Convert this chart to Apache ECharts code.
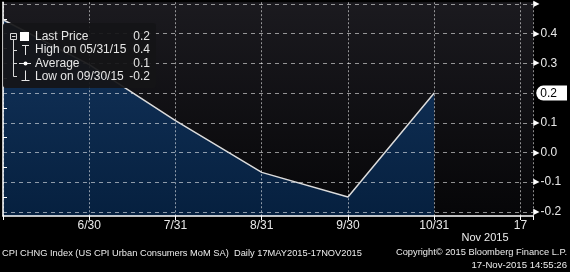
<!DOCTYPE html>
<html><head><meta charset="utf-8">
<script src="https://cdn.jsdelivr.net/npm/echarts@6/dist/echarts.min.js"></script>
<style>html,body{margin:0;padding:0;background:#000}#c{width:570px;height:272px}</style>
</head><body><div id="c"></div>
<script>
// ---- data ----
const pointDates = ['05/31/15','06/30/15','07/31/15','08/31/15','09/30/15','10/31/15'];
const priceValues = [0.447, 0.296, 0.107, -0.067, -0.15, 0.2];
const xTickLabels = ['', '6/30', '7/31', '8/31', '9/30', '10/31', '17'];
const yTickValues = [-0.2, -0.1, 0.0, 0.1, 0.2, 0.3, 0.4];
const yTopTick = 0.5;
const lastPrice = 0.2;
const legendLabels = ['Last Price', 'High on 05/31/15', 'Average', 'Low on 09/30/15'];
const legendValues = ['0.2', '0.4', '0.1', '-0.2'];
const monthLabel = 'Nov 2015';
const footerLeft = 'CPI CHNG Index (US CPI Urban Consumers MoM SA)  Daily 17MAY2015-17NOV2015';
const footerRight1 = 'Copyright\u00A9 2015 Bloomberg Finance L.P.';
const footerRight2 = '17-Nov-2015 14:55:26';

const FONT = "'Liberation Sans', Arial, sans-serif";
const seriesData = priceValues.map((v, i) => [i, v]);
const near = (a, b) => Math.abs(a - b) < 1e-6;

const chart = echarts.init(document.getElementById('c'), null, {renderer: 'canvas'});

const rowYs = [37, 50, 63.5, 76.5];
const LZ = 30;
const ln = (x1, y1, x2, y2, c) => ({type: 'line', z: LZ + 1, shape: {x1, y1, x2, y2}, style: {stroke: c || '#d8d8d8', lineWidth: 1}});
const legendChildren = [
  {type: 'rect', z: LZ, shape: {x: 3, y: 23, width: 153, height: 65, r: 3}, style: {fill: 'rgba(20,20,23,0.93)'}},
  {type: 'rect', z: LZ + 1, shape: {x: 10.5, y: 33.5, width: 6, height: 6}, style: {fill: 'none', stroke: '#d8d8d8', lineWidth: 1}},
  ln(12, 36.5, 15.5, 36.5),
  ln(13.5, 40, 13.5, 76.5),
  ln(13.5, 50.5, 17, 50.5),
  ln(13.5, 63.5, 17, 63.5),
  ln(13.5, 76.5, 17, 76.5),
  {type: 'rect', z: LZ + 1, shape: {x: 20, y: 32, width: 9, height: 9}, style: {fill: '#ffffff'}},
  ln(22, 45.5, 29, 45.5, '#e6e6e6'),
  ln(25.5, 45.5, 25.5, 55, '#e6e6e6'),
  ln(19, 63.5, 31, 63.5, '#e6e6e6'),
  {type: 'circle', z: LZ + 1, shape: {cx: 25.5, cy: 63.5, r: 2}, style: {fill: '#ffffff'}},
  ln(25.5, 70.5, 25.5, 80, '#e6e6e6'),
  ln(21.5, 80.5, 29.5, 80.5, '#e6e6e6')
];
legendLabels.forEach((t, i) => {
  legendChildren.push({type: 'text', z: LZ + 1, x: 35, y: rowYs[i], style: {text: t, font: '12px ' + FONT, fill: '#e6e6e6', align: 'left', verticalAlign: 'middle'}});
  legendChildren.push({type: 'text', z: LZ + 1, x: 150, y: rowYs[i], style: {text: legendValues[i], font: '12px ' + FONT, fill: '#e6e6e6', align: 'right', verticalAlign: 'middle'}});
});

const txt = (x, y, text, size, align) => ({type: 'text', z: LZ, x, y, style: {text, font: size + 'px ' + FONT, fill: '#ececec', align, verticalAlign: 'middle'}});

const vGridStyle = {color: 'rgba(255,255,255,0.55)', type: [2, 2], width: 1};
const hGridStyle = {color: 'rgba(255,255,255,0.55)', type: [4, 4], width: 1};

const option = {
  animation: false,
  backgroundColor: '#000000',
  grid: {
    left: 0, right: 33, top: 0, bottom: 56, show: true, borderWidth: 0,
    backgroundColor: new echarts.graphic.LinearGradient(0, 0, 0, 1, [
      {offset: 0, color: '#1b1a1f'}, {offset: 1, color: '#060608'}
    ])
  },
  xAxis: {
    type: 'value', min: 0, max: 6.149, interval: 1, z: 3,
    axisLine: {show: true, onZero: false, lineStyle: {color: '#ffffff', width: 1.5}},
    axisTick: {show: true, length: 4, lineStyle: {color: '#ffffff'}},
    axisLabel: {
      color: '#e8e8e8', fontSize: 12, fontFamily: FONT, margin: 4,
      formatter: v => (Number.isInteger(v) && xTickLabels[v] !== undefined) ? xTickLabels[v] : ''
    },
    splitLine: {show: true, lineStyle: vGridStyle}
  },
  yAxis: {
    type: 'value', position: 'right', min: -0.214, max: 0.506, minInterval: 0.1, maxInterval: 0.1, z: 3,
    axisLine: {show: true, lineStyle: {color: '#ffffff', width: 1.5}},
    axisTick: {show: false},
    minorTick: {show: true, splitNumber: 2, length: 4, lineStyle: {color: '#ffffff'}},
    axisLabel: {
      margin: 0, fontFamily: FONT, showMinLabel: false, showMaxLabel: false,
      formatter: v => {
        if (near(v, lastPrice)) return '{sp|}{hl|' + lastPrice.toFixed(1) + '}';
        if (yTickValues.some(t => near(t, v))) return '{tri|\u25B6}{v|' + v.toFixed(1) + '}';
        if (near(v, yTopTick)) return '{tri|\u25B6}';
        return '';
      },
      rich: {
        tri: {fontSize: 8, color: '#ffffff', fontFamily: 'DejaVu Sans', padding: [0, 1, 0, 0]},
        v: {fontSize: 12, color: '#e8e8e8', fontFamily: FONT},
        sp: {width: 3},
        hl: {fontSize: 12, color: '#000000', fontFamily: FONT, backgroundColor: '#ffffff',
             padding: [2, 10, 1, 4], borderRadius: [7, 0, 0, 7]}
      }
    },
    splitLine: {show: false}
  },
  series: [
    {
      type: 'line', data: seriesData, symbol: 'none', z: 1, silent: true,
      lineStyle: {width: 0, opacity: 0},
      areaStyle: {
        origin: 'start', opacity: 1,
        color: new echarts.graphic.LinearGradient(0, 0, 0, 1, [
          {offset: 0, color: '#13345c'}, {offset: 1, color: '#06203f'}
        ])
      },
      markLine: {
        silent: true, animation: false, symbol: ['none', 'none'],
        label: {show: false},
        emphasis: {disabled: true},
        lineStyle: hGridStyle,
        data: yTickValues.concat([yTopTick]).map(v => ({yAxis: v}))
      }
    },
    {
      type: 'line', data: seriesData, symbol: 'none', z: 5,
      lineStyle: {color: '#dcdcdc', width: 1.5}
    }
  ],
  graphic: [
    {type: 'group', children: legendChildren},
    txt(485, 238, monthLabel, 11, 'center'),
    txt(2, 253, footerLeft, 9.3, 'left'),
    txt(567, 252, footerRight1, 9.3, 'right'),
    txt(567, 265.5, footerRight2, 9.6, 'right')
  ]
};
chart.setOption(option);
</script></body></html>
